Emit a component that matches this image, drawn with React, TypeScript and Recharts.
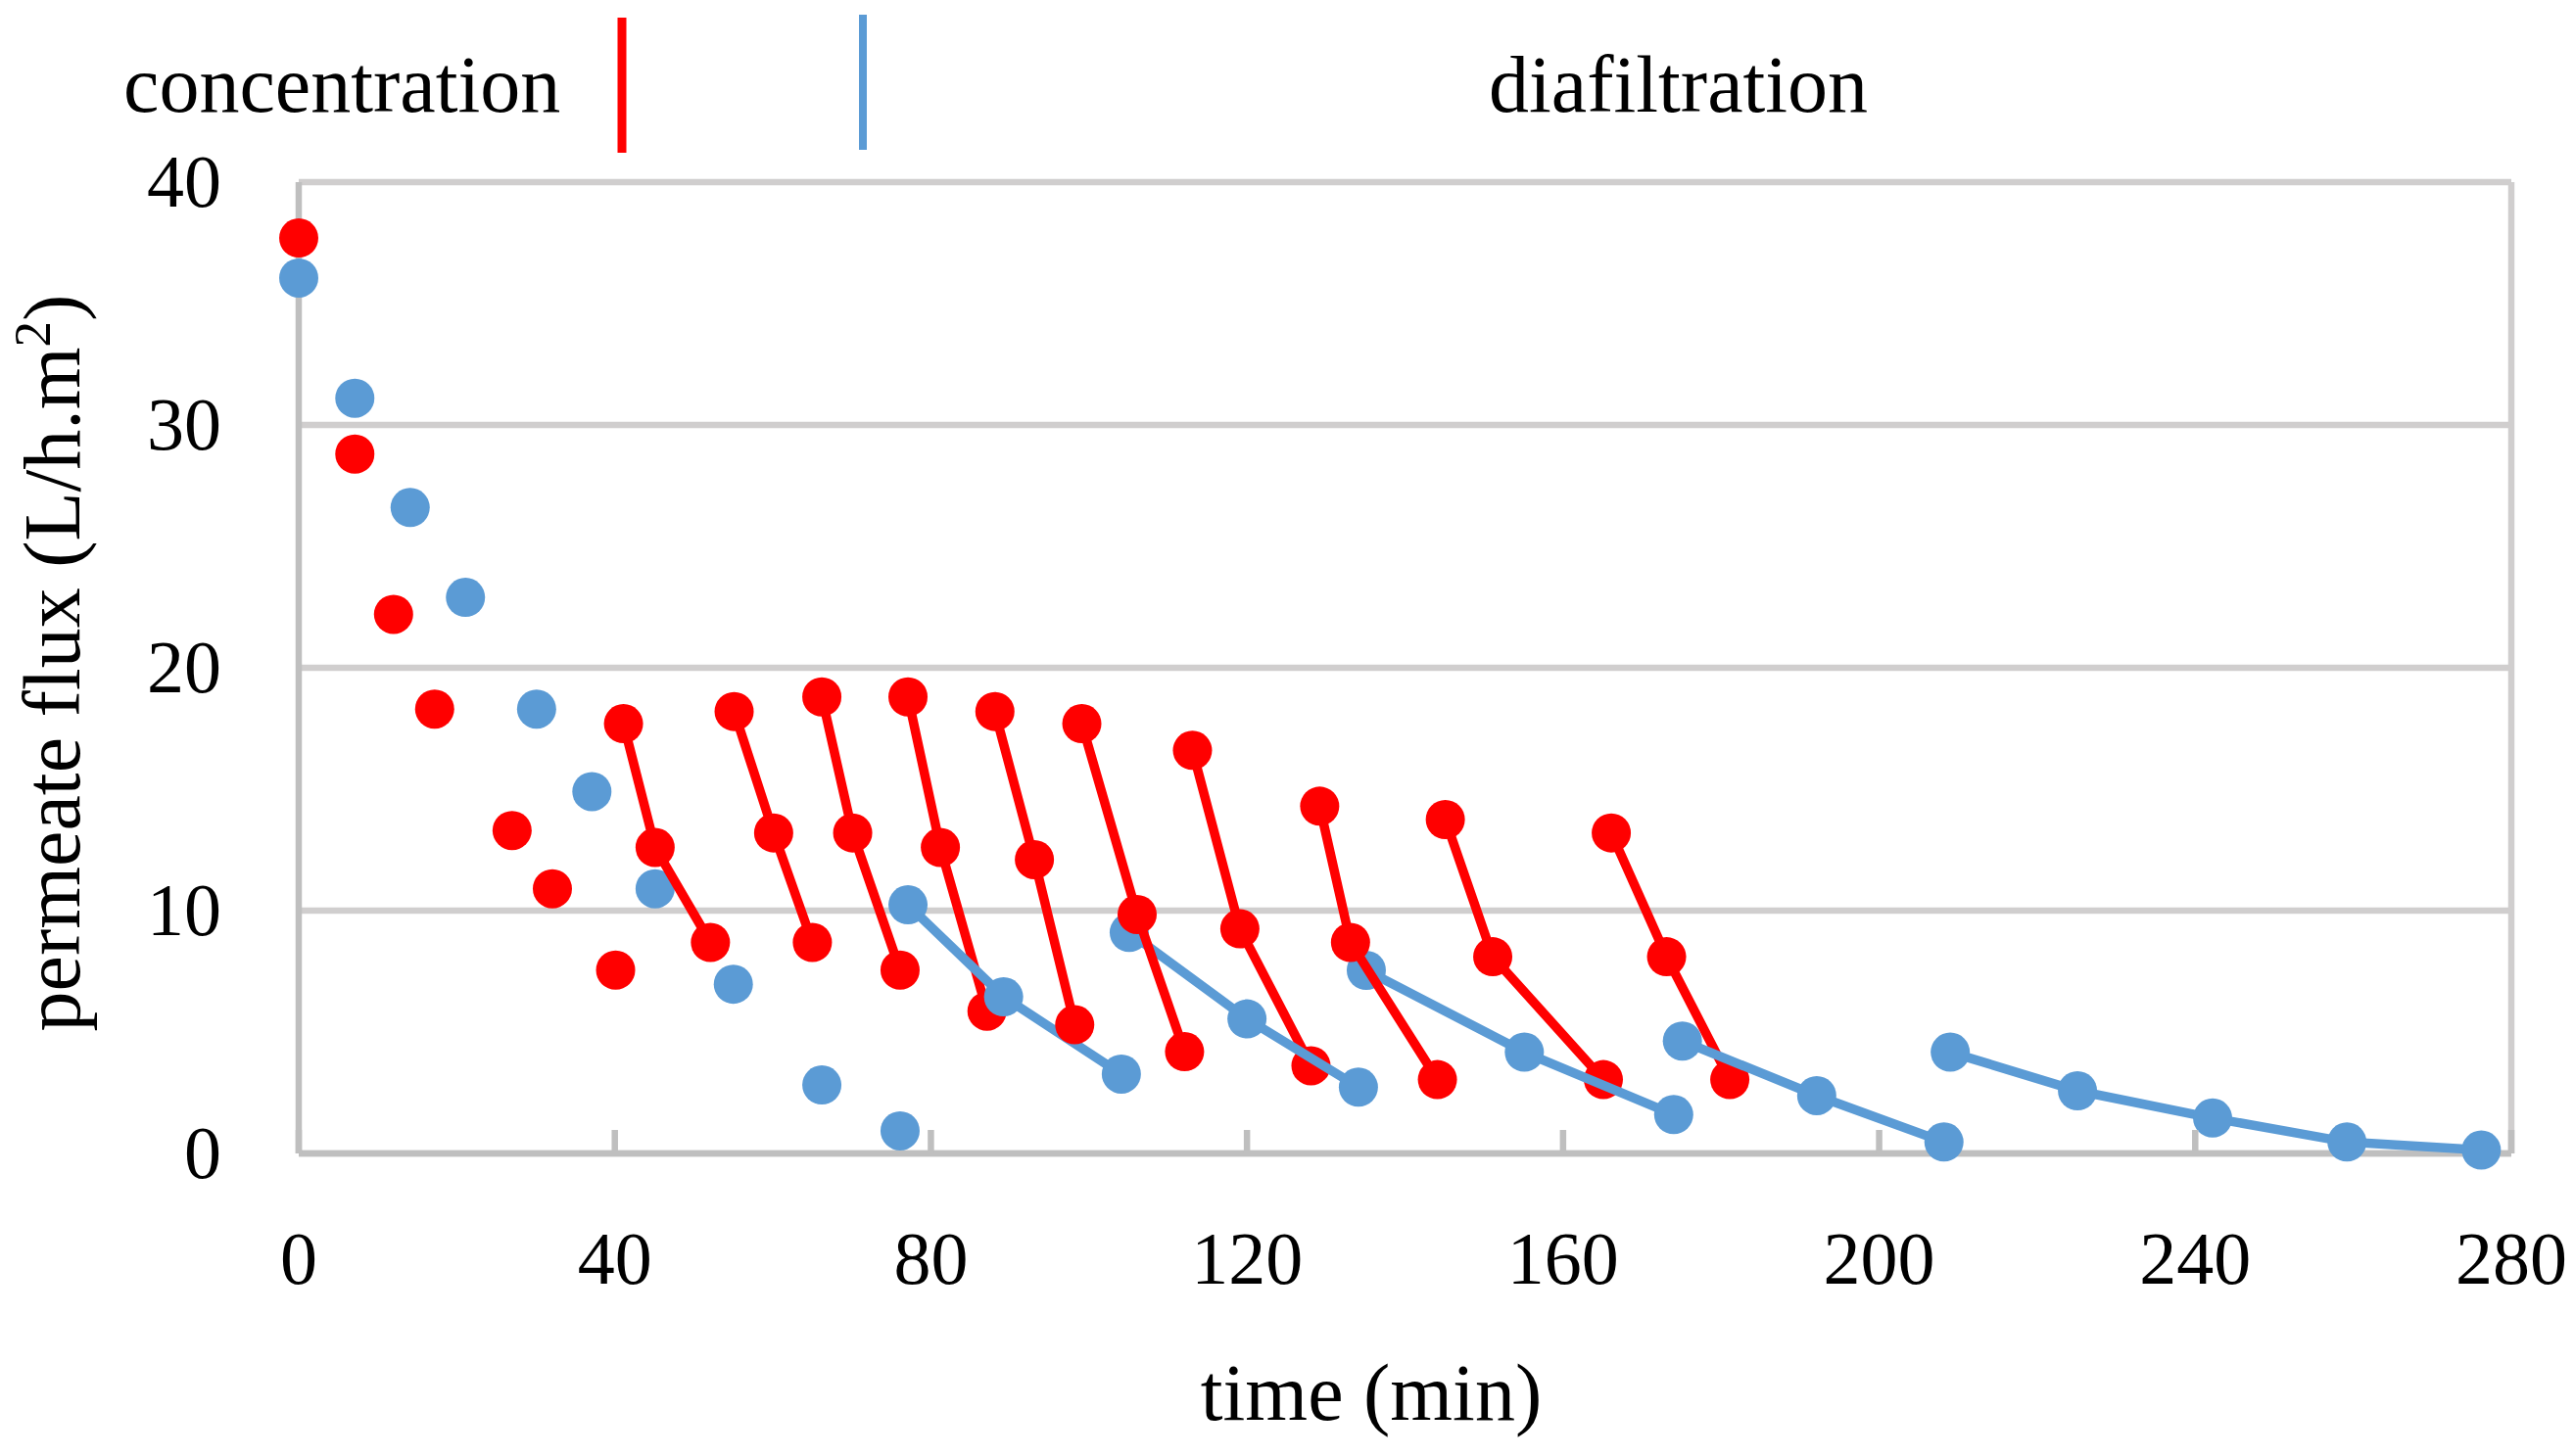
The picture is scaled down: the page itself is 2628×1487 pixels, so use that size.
import React from "react";
import { ComposedChart, Scatter, XAxis, YAxis, CartesianGrid, ReferenceLine } from "recharts";

document.body.style.margin = "0";

const RED = "#FF0000";
const BLUE = "#5B9BD5";
const GRID = "#D0CECE";
const AXIS = "#BFBFBF";
const FONT = '"Liberation Serif", "Times New Roman", serif';

const xTicks = [0, 40, 80, 120, 160, 200, 240, 280];
const yTicks = [0, 10, 20, 30, 40];

// concentration points that are not joined
const concTime = [0, 7.1, 12.0, 17.2, 27.0, 32.1, 40.1];
const concFlux = [37.7, 28.8, 22.2, 18.3, 13.3, 10.9, 7.55];

// diafiltration points that are not joined
const diaTime = [0, 7.1, 14.1, 21.1, 30.1, 37.1, 45.1, 55.0, 66.2, 76.1];
const diaFlux = [36.05, 31.1, 26.6, 22.9, 18.3, 14.9, 10.9, 6.97, 2.82, 0.93];

// concentration runs (red lines)
const concRunTime = [
  [41.1, 45.1, 52.1],
  [55.1, 60.1, 65.0],
  [66.2, 70.1, 76.1],
  [77.1, 81.2, 87.1],
  [88.1, 93.1, 98.2],
  [99.1, 106.1, 112.1],
  [113.1, 119.1, 128.1],
  [129.2, 133.1, 144.1],
  [145.1, 151.1, 165.1],
  [166.1, 173.1, 181.1],
];
const concRunFlux = [
  [17.7, 12.6, 8.69],
  [18.2, 13.2, 8.69],
  [18.8, 13.2, 7.55],
  [18.8, 12.6, 5.86],
  [18.2, 12.1, 5.3],
  [17.7, 9.84, 4.19],
  [16.6, 9.25, 3.61],
  [14.3, 8.69, 3.04],
  [13.75, 8.1, 3.04],
  [13.2, 8.1, 3.04],
];

// diafiltration runs (blue lines)
const diaRunTime = [
  [77.1, 89.2, 104.1],
  [105.1, 120.0, 134.1],
  [135.1, 155.1, 174.0],
  [175.1, 192.1, 208.2],
  [209.0, 225.1, 242.2, 259.2, 276.2],
];
const diaRunFlux = [
  [10.24, 6.45, 3.27],
  [9.1, 5.54, 2.73],
  [7.54, 4.17, 1.6],
  [4.63, 2.38, 0.47],
  [4.17, 2.58, 1.46, 0.47, 0.14],
];

// stacking order of the runs, as in the original
const drawOrder = ["c0", "c1", "c2", "c3", "d0", "c4", "c6", "d1", "c5", "c8", "d2", "c7", "c9", "d3", "d4"];

const toPoints = (ts: number[], fs: number[]) => ts.map((t, i) => ({ t, f: fs[i] }));

const dot = (color: string) => (p: any) => <circle cx={p.cx} cy={p.cy} r={20} fill={color} />;

const XTick = (props: any) => {
  const { x, y, payload } = props;
  return (
    <g>
      <line x1={x} x2={x} y1={y} y2={y - 24} stroke={AXIS} strokeWidth={6.5} />
      <text x={x} y={y + 133} textAnchor="middle" fontSize={76} fontFamily={FONT} fill="#000">
        {payload.value}
      </text>
    </g>
  );
};

const YTick = (props: any) => {
  const { x, y, payload } = props;
  return (
    <text x={x - 79} y={y + 25} textAnchor="end" fontSize={76} fontFamily={FONT} fill="#000">
      {payload.value}
    </text>
  );
};

export default function App() {
  const runs = drawOrder.map((key) => {
    const i = Number(key.slice(1));
    const isConc = key[0] === "c";
    const color = isConc ? RED : BLUE;
    const data = isConc ? toPoints(concRunTime[i], concRunFlux[i]) : toPoints(diaRunTime[i], diaRunFlux[i]);
    return (
      <Scatter
        key={key}
        data={data}
        line={{ stroke: color, strokeWidth: 9.5 }}
        lineType="joint"
        shape={dot(color)}
        isAnimationActive={false}
      />
    );
  });

  return (
    <div style={{ position: "relative", width: 2628, height: 1487, background: "#fff" }}>
      <ComposedChart width={2628} height={1487} margin={{ top: 186, right: 64, bottom: 169, left: 205 }}>
        <CartesianGrid vertical={false} stroke={GRID} strokeWidth={6.5} />
        <XAxis
          type="number"
          dataKey="t"
          domain={[0, 280]}
          ticks={xTicks}
          height={140}
          tickSize={0}
          tickMargin={0}
          tickLine={false}
          axisLine={{ stroke: AXIS, strokeWidth: 6.5 }}
          tick={XTick}
        />
        <YAxis
          type="number"
          dataKey="f"
          domain={[0, 40]}
          ticks={yTicks}
          width={100}
          tickSize={0}
          tickMargin={0}
          tickLine={false}
          axisLine={{ stroke: AXIS, strokeWidth: 6.5 }}
          tick={YTick}
        />
        <ReferenceLine x={280} stroke={GRID} strokeWidth={6.5} />
        <Scatter data={toPoints(diaTime, diaFlux)} shape={dot(BLUE)} isAnimationActive={false} />
        <Scatter data={toPoints(concTime, concFlux)} shape={dot(RED)} isAnimationActive={false} />
        {runs}
      </ComposedChart>
      <svg width={2628} height={1487} style={{ position: "absolute", left: 0, top: 0, pointerEvents: "none" }}>
        <g fontFamily={FONT} fill="#000">
          <text x={126} y={114} fontSize={82}>concentration</text>
          <text x={1520} y={114} fontSize={82}>diafiltration</text>
          <text x={1400} y={1450} fontSize={82} textAnchor="middle">time (min)</text>
          <text x={81} y={677} fontSize={82} textAnchor="middle" transform="rotate(-90, 81, 677)">
            permeate flux (L/h.m<tspan dy={-30} fontSize={53}>2</tspan>
            <tspan dy={30}>)</tspan>
          </text>
        </g>
        <line x1={635} x2={635} y1={18} y2={156} stroke={RED} strokeWidth={9} />
        <line x1={881} x2={881} y1={15} y2={153} stroke={BLUE} strokeWidth={8} />
      </svg>
    </div>
  );
}
